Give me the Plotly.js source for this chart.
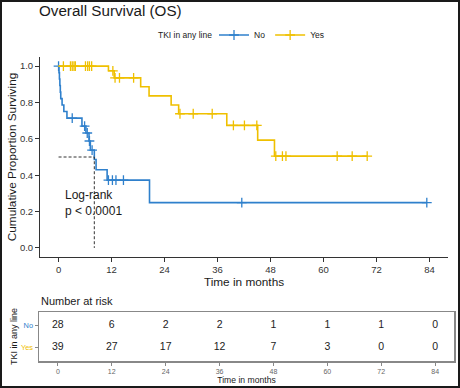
<!DOCTYPE html>
<html><head><meta charset="utf-8">
<script src="https://cdn.plot.ly/plotly-3.0.1.min.js"></script>
<style>html,body{margin:0;padding:0;background:#fff}#chart{width:460px;height:388px}</style>
</head><body><div id="chart"></div>
<script>
// ---- data ----
const groupNames = ['No', 'Yes'];
const groupColors = ['#2f80cc', '#EFC000'];

// "No" group: Kaplan-Meier step knots (time in months, survival)
const noStepTimes = [0, 0.1, 0.2, 0.3, 0.4, 0.5, 0.8, 1.2, 1.9, 5.3, 6.2, 6.9, 7.2, 8.1, 8.5, 11.0, 20.6, 83.4];
const noStepSurv  = [1, 0.964, 0.929, 0.893, 0.857, 0.821, 0.786, 0.750, 0.714, 0.670, 0.632, 0.588, 0.538, 0.486, 0.430, 0.373, 0.249, 0.249];
const noCensorTimes = [0, 3.1, 5.9, 6.5, 7.0, 7.6, 11.3, 12.2, 13.0, 14.7, 41.5, 83.4];

// "Yes" group
const yesStepTimes = [0, 11.3, 12.6, 18.6, 20.5, 25.5, 27.2, 38.1, 45.1, 48.9, 69.9];
const yesStepSurv  = [1, 0.974, 0.935, 0.886, 0.836, 0.786, 0.738, 0.674, 0.593, 0.505, 0.505];
const yesCensorTimes = [1.1, 2.7, 3.1, 3.5, 3.8, 6.1, 6.6, 7.0, 7.5, 12.3, 12.8, 13.8, 17.0, 27.5, 30.5, 34.8, 39.6, 42.1, 44.9, 49.2, 50.7, 51.5, 63.1, 66.5, 69.9];

// Number at risk table
const riskTimes = [0, 12, 24, 36, 48, 60, 72, 84];
const riskNo  = [28, 6, 2, 2, 1, 1, 1, 0];
const riskYes = [39, 27, 17, 12, 7, 3, 0, 0];

const xTicks = [0, 12, 24, 36, 48, 60, 72, 84];
const yTicks = [0, 0.2, 0.4, 0.6, 0.8, 1.0];
const pValueText = 'Log-rank<br>p < 0.0001';

// ---- helpers ----
function survAt(times, surv, t) {
  let s = surv[0];
  for (let i = 0; i < times.length; i++) { if (times[i] <= t) s = surv[i]; }
  return s;
}
function medianTime(times, surv) {
  for (let i = 0; i < times.length; i++) if (surv[i] <= 0.5) return times[i];
  return null;
}

const groups = [
  {name: groupNames[0], color: groupColors[0], t: noStepTimes, s: noStepSurv, c: noCensorTimes},
  {name: groupNames[1], color: groupColors[1], t: yesStepTimes, s: yesStepSurv, c: yesCensorTimes}
];

const traces = [];
groups.forEach(g => {
  traces.push({
    x: g.t, y: g.s, type: 'scatter', mode: 'lines', line: {shape: 'hv', color: g.color, width: 1.6},
    showlegend: false, hoverinfo: 'skip', xaxis: 'x', yaxis: 'y'
  });
  traces.push({
    x: g.c, y: g.c.map(t => survAt(g.t, g.s, t)), type: 'scatter', mode: 'markers',
    marker: {symbol: 'cross-thin', size: 7, color: g.color, line: {width: 1.3, color: g.color}},
    showlegend: false, hoverinfo: 'skip', xaxis: 'x', yaxis: 'y'
  });
});

// median line for the group that reaches 0.5
const med = medianTime(noStepTimes, noStepSurv);
traces.push({
  x: [0, med, med], y: [0.5, 0.5, 0], type: 'scatter', mode: 'lines',
  line: {color: '#333', width: 1, dash: '3px,2px'}, showlegend: false, hoverinfo: 'skip', xaxis: 'x', yaxis: 'y'
});

// legend-only entries
groups.forEach(g => {
  traces.push({
    x: [null], y: [null], type: 'scatter', mode: 'lines+markers', name: g.name,
    line: {color: g.color, width: 1.6},
    marker: {symbol: 'cross-thin', size: 7, color: g.color, line: {width: 1.3, color: g.color}},
    xaxis: 'x', yaxis: 'y'
  });
});

// risk table numbers
traces.push({
  x: riskTimes, y: riskTimes.map(() => 2), text: riskNo.map(String), type: 'scatter', mode: 'text',
  textfont: {family: 'Liberation Sans, Arial', size: 10.5, color: '#222'}, showlegend: false, hoverinfo: 'skip',
  xaxis: 'x2', yaxis: 'y2'
});
traces.push({
  x: riskTimes, y: riskTimes.map(() => 1), text: riskYes.map(String), type: 'scatter', mode: 'text',
  textfont: {family: 'Liberation Sans, Arial', size: 10.5, color: '#222'}, showlegend: false, hoverinfo: 'skip',
  xaxis: 'x2', yaxis: 'y2'
});

const W = 460, H = 388;
const px = v => v / W, py = v => 1 - v / H;
const FONT = 'Liberation Sans, Arial, sans-serif';

const layout = {
  width: W, height: H, autosize: false,
  margin: {l: 0, r: 0, t: 0, b: 0},
  paper_bgcolor: '#fff', plot_bgcolor: '#fff',
  font: {family: FONT, color: '#1a1a1a'},
  title: {text: 'Overall Survival (OS)', x: px(39), xanchor: 'left', xref: 'paper',
          y: py(11), yanchor: 'middle', yref: 'paper', font: {size: 15.2, color: '#1a1a1a'}},
  showlegend: true,
  legend: {orientation: 'h', x: px(214), xanchor: 'left', y: py(35), yanchor: 'middle',
           font: {size: 8.5, color: '#1a1a1a'}, itemwidth: 30, bgcolor: 'rgba(0,0,0,0)', tracegroupgap: 0},
  xaxis: {domain: [px(40), px(448)], range: [-4.2, 88.2], tickvals: xTicks, ticks: 'outside', ticklen: 4,
          tickcolor: '#333', showline: true, linecolor: '#333', linewidth: 1, showgrid: false, zeroline: false,
          tickfont: {size: 9.5, color: '#333'}, anchor: 'y',
          title: {text: 'Time in months', font: {size: 11.8, color: '#1a1a1a'}, standoff: 1}},
  yaxis: {domain: [py(257), py(57)], range: [-0.05, 1.05], tickvals: yTicks, tickformat: '.1f', ticks: 'outside',
          ticklen: 4, tickcolor: '#333', showline: true, linecolor: '#333', linewidth: 1, showgrid: false,
          zeroline: false, tickfont: {size: 9.5, color: '#333'}, anchor: 'x',
          title: {text: 'Cumulative Proportion Surviving', font: {size: 11.8, color: '#1a1a1a'}, standoff: 0}},
  xaxis2: {domain: [px(39), px(454)], range: [-4.2, 88.2], tickvals: xTicks, ticks: 'outside', ticklen: 3,
           tickcolor: '#888', showline: true, mirror: true, linecolor: '#888', linewidth: 1.5, showgrid: false,
           zeroline: false, tickfont: {size: 7, color: '#666'}, anchor: 'y2',
           title: {text: 'Time in months', font: {size: 8.6, color: '#1a1a1a'}, standoff: 0}},
  yaxis2: {domain: [py(361), py(312)], range: [0.4, 2.6], tickvals: [1, 2],
           ticktext: ['<span style="color:' + groupColors[1] + '">Yes</span>', '<span style="color:' + groupColors[0] + '">No</span>'],
           ticks: 'outside', ticklen: 3, tickcolor: '#888', showline: true, mirror: true, linecolor: '#888',
           linewidth: 1.5, showgrid: false, zeroline: false, tickfont: {size: 7.4}, anchor: 'x2',
           title: {text: 'TKI in any line', font: {size: 9, color: '#1a1a1a'}, standoff: 2}},
  annotations: [
    {text: pValueText, x: 1.0, y: 0.245, xref: 'x', yref: 'y', xanchor: 'left', yanchor: 'middle',
     showarrow: false, align: 'left', font: {size: 12, color: '#1a1a1a'}},
    {text: 'Number at risk', x: px(39), y: py(301), xref: 'paper', yref: 'paper', xanchor: 'left',
     yanchor: 'middle', showarrow: false, font: {size: 11, color: '#1a1a1a'}},
    {text: 'TKI in any line', x: px(214), y: py(35), xref: 'paper', yref: 'paper', xanchor: 'right',
     yanchor: 'middle', showarrow: false, font: {size: 8.5, color: '#1a1a1a'}}
  ],
  shapes: [
    {type: 'rect', xref: 'paper', yref: 'paper', x0: 0, x1: 1, y0: 0, y1: 1,
     line: {color: '#1a1a1a', width: 4}, fillcolor: 'rgba(0,0,0,0)', layer: 'above'}
  ]
};

Plotly.newPlot('chart', traces, layout, {staticPlot: true, displayModeBar: false});
</script>
</body></html>
